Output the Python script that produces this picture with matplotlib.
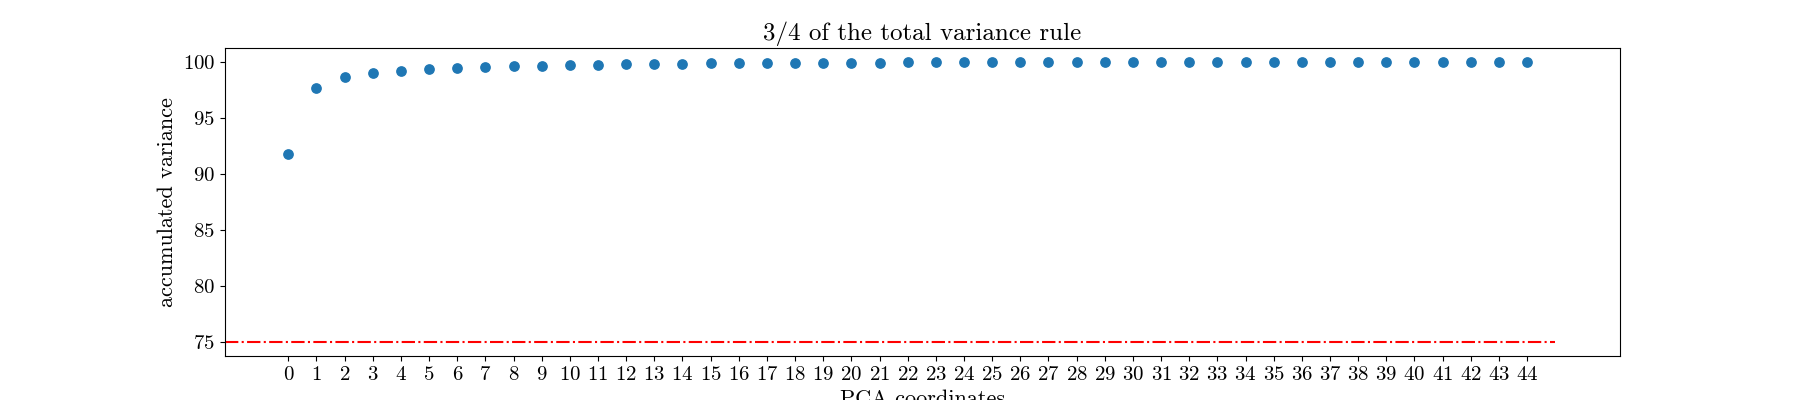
import matplotlib
matplotlib.use("Agg")
import matplotlib.pyplot as plt
import numpy as np

plt.rcParams['font.family'] = ['cmr10', 'DejaVu Serif']
plt.rcParams['mathtext.fontset'] = 'cm'
plt.rcParams['axes.formatter.use_mathtext'] = True

# accumulated explained variance per PCA coordinate
components = list(range(45))
variance = [91.8, 97.7, 98.7, 99.05, 99.2, 99.35, 99.45, 99.55, 99.63, 99.68,
            99.73, 99.77, 99.81, 99.84, 99.86, 99.88, 99.9, 99.91, 99.92, 99.93,
            99.94, 99.95, 99.96, 99.97, 99.97, 99.98, 99.98, 99.98, 99.99, 99.99,
            99.99, 99.99, 99.99, 100.0, 100.0, 100.0, 100.0, 100.0, 100.0, 100.0,
            100.0, 100.0, 100.0, 100.0, 100.0]
threshold = 75

fig, ax = plt.subplots(figsize=(18, 4), dpi=100)
ax.scatter(components, variance, s=45, color='#1f77b4')
ax.hlines(threshold, -2.25, 45, colors='red', linestyles='-.')
ax.set_xlim(-2.25, 47.3)
ax.set_xticks(components)
ax.tick_params(labelsize=15)
ax.set_xlabel('PCA coordinates', fontsize=16)
ax.set_ylabel('accumulated variance', fontsize=16)
ax.set_title('3/4 of the total variance rule', fontsize=18)
plt.savefig('out.png')
